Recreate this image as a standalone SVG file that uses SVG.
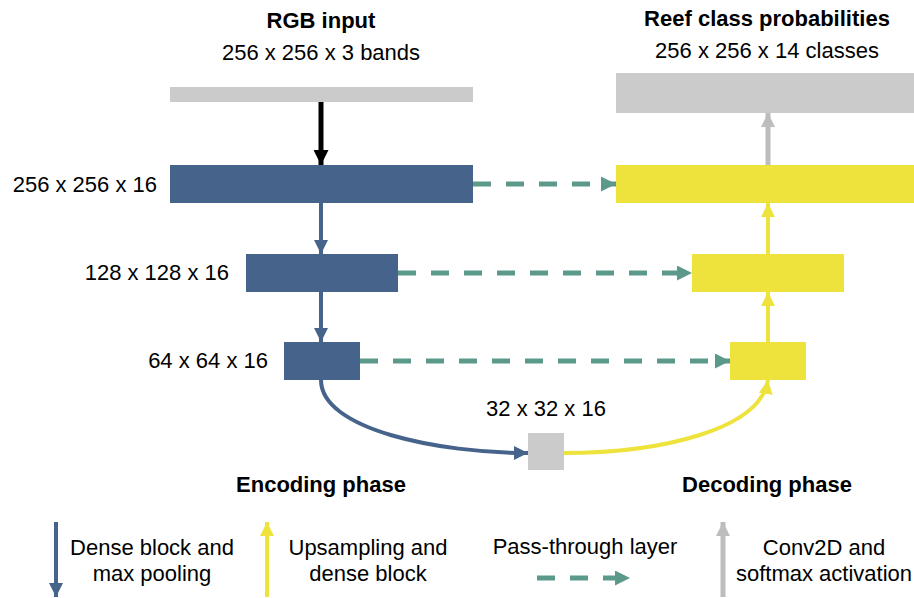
<svg xmlns="http://www.w3.org/2000/svg" width="914" height="598" viewBox="0 0 914 598">
<defs>
<style>
text{font-family:"Liberation Sans",Arial,sans-serif;font-size:22px;fill:#000}
.b{font-weight:bold}
.enc{fill:#46648b}
.dec{fill:#ede33c}
.gr{fill:#cbcbcb}
.blue{stroke:#46648b;stroke-width:4;fill:none}
.yel{stroke:#ede33c;stroke-width:4;fill:none}
.grey{stroke:#bdbdbd;stroke-width:5;fill:none}
.blk{stroke:#000;stroke-width:5;fill:none}
.dash{stroke:#5b9a8b;stroke-width:5;fill:none;stroke-dasharray:18 15}
</style>
<marker id="mBlk" viewBox="0 0 10 10" refX="10" refY="5" markerWidth="15" markerHeight="15" markerUnits="userSpaceOnUse" orient="auto"><path d="M0,0L10,5L0,10z" fill="#000"/></marker>
<marker id="mBlue" viewBox="0 0 10 10" refX="10" refY="5" markerWidth="14" markerHeight="14" markerUnits="userSpaceOnUse" orient="auto"><path d="M0,0L10,5L0,10z" fill="#46648b"/></marker>
<marker id="mYel" viewBox="0 0 10 10" refX="10" refY="5" markerWidth="14" markerHeight="14" markerUnits="userSpaceOnUse" orient="auto"><path d="M0,0L10,5L0,10z" fill="#ede33c"/></marker>
<marker id="mGrey" viewBox="0 0 10 10" refX="10" refY="5" markerWidth="14" markerHeight="14" markerUnits="userSpaceOnUse" orient="auto"><path d="M0,0L10,5L0,10z" fill="#bdbdbd"/></marker>
<marker id="mTeal" viewBox="0 0 10 10" refX="10" refY="5" markerWidth="15" markerHeight="15" markerUnits="userSpaceOnUse" orient="auto"><path d="M0,0L10,5L0,10z" fill="#5b9a8b"/></marker>
</defs>
<rect width="914" height="598" fill="#fff"/>

<text class="b" x="321" y="28" text-anchor="middle">RGB input</text>
<text x="321" y="60" text-anchor="middle">256 x 256 x 3 bands</text>
<text class="b" x="767" y="26" text-anchor="middle">Reef class probabilities</text>
<text x="767" y="58" text-anchor="middle">256 x 256 x 14 classes</text>

<g id="input"><rect class="gr" x="170" y="87" width="303" height="15"/></g>
<g id="enc1"><rect class="enc" x="170" y="165" width="303" height="38"/><text x="157" y="192" text-anchor="end">256 x 256 x 16</text></g>
<g id="enc2"><rect class="enc" x="246" y="254" width="152" height="38"/><text x="229" y="280" text-anchor="end">128 x 128 x 16</text></g>
<g id="enc3"><rect class="enc" x="284" y="342" width="76" height="38"/><text x="268" y="368" text-anchor="end">64 x 64 x 16</text></g>
<g id="bottleneck"><rect class="gr" x="528" y="433" width="36" height="37"/><text x="546" y="416" text-anchor="middle">32 x 32 x 16</text></g>
<g id="dec3"><rect class="dec" x="730" y="342" width="76" height="38"/></g>
<g id="dec2"><rect class="dec" x="692" y="254" width="152" height="38"/></g>
<g id="dec1"><rect class="dec" x="616" y="165" width="298" height="38"/></g>
<g id="output"><rect class="gr" x="616" y="73" width="298" height="40"/></g>

<g id="connectors">
<line class="blk" x1="321" y1="102" x2="321" y2="165" marker-end="url(#mBlk)"/>
<line class="blue" x1="321" y1="203" x2="321" y2="254" marker-end="url(#mBlue)"/>
<line class="blue" x1="321" y1="292" x2="321" y2="342" marker-end="url(#mBlue)"/>
<path class="blue" d="M321,380 C321,430 440,453 528,453" marker-end="url(#mBlue)"/>
<path class="yel" d="M564,453 C660,453 760,430 768,380" marker-end="url(#mYel)"/>
<line class="yel" x1="768" y1="342" x2="768" y2="292" marker-end="url(#mYel)"/>
<line class="yel" x1="768" y1="254" x2="768" y2="203" marker-end="url(#mYel)"/>
<line class="grey" x1="768" y1="165" x2="768" y2="113" marker-end="url(#mGrey)"/>
<line class="dash" x1="473" y1="184" x2="616" y2="184" marker-end="url(#mTeal)"/>
<line class="dash" x1="398" y1="273" x2="692" y2="273" marker-end="url(#mTeal)"/>
<line class="dash" x1="360" y1="361" x2="730" y2="361" marker-end="url(#mTeal)"/>
</g>

<text class="b" x="321" y="492" text-anchor="middle">Encoding phase</text>
<text class="b" x="767" y="492" text-anchor="middle">Decoding phase</text>

<g id="legend">
<line class="blue" x1="56" y1="522" x2="56" y2="597" marker-end="url(#mBlue)"/>
<text x="152" y="555" text-anchor="middle">Dense block and</text>
<text x="152" y="581" text-anchor="middle">max pooling</text>
<line class="yel" x1="267" y1="597" x2="267" y2="522" marker-end="url(#mYel)"/>
<text x="368" y="555" text-anchor="middle">Upsampling and</text>
<text x="368" y="581" text-anchor="middle">dense block</text>
<text x="585" y="554" text-anchor="middle">Pass-through layer</text>
<line class="dash" x1="537" y1="578" x2="630" y2="578" marker-end="url(#mTeal)"/>
<line class="grey" x1="723" y1="597" x2="723" y2="522" marker-end="url(#mGrey)"/>
<text x="824" y="555" text-anchor="middle">Conv2D and</text>
<text x="824" y="581" text-anchor="middle">softmax activation</text>
</g>
</svg>
